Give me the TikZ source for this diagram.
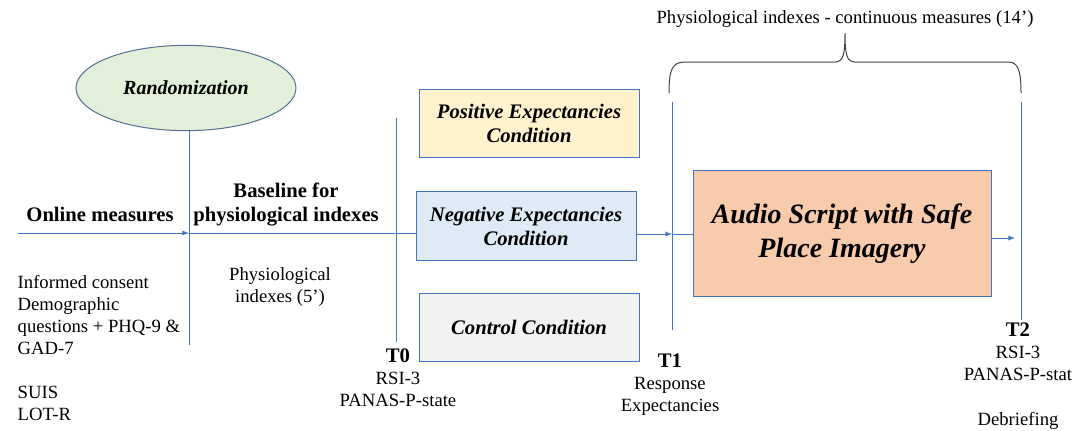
\documentclass[tikz,border=0pt]{standalone}
\usepackage{fontspec}
\setmainfont{Liberation Serif}
\usetikzlibrary{shapes.geometric}

\definecolor{flowblue}{RGB}{68,114,196}
\definecolor{posfill}{RGB}{255,242,204}
\definecolor{negfill}{RGB}{222,235,247}
\definecolor{ctrlfill}{RGB}{242,242,242}
\definecolor{audiofill}{RGB}{248,203,173}
\definecolor{randfill}{RGB}{226,239,217}
\definecolor{randline}{RGB}{84,110,150}
\newcommand{\txt}{\fontsize{14pt}{16.6pt}\selectfont}
\newcommand{\bigtxt}{\fontsize{15.5pt}{18pt}\selectfont\bfseries}

\begin{document}
\begin{tikzpicture}[x=0.75pt,y=-0.75pt,
  flow/.style={flowblue,line width=0.75pt},
  cond/.style={draw=flowblue,line width=0.75pt,minimum width=165pt,minimum height=51.5pt,
    align=center,font=\bigtxt\itshape},
  plain/.style={align=center,font=\txt}]

\useasboundingbox (0,0) rectangle (1077,430);

% randomization
\node[ellipse,draw=randline,fill=randfill,line width=0.75pt,minimum width=165pt,minimum height=64pt,
  font=\fontsize{15pt}{18pt}\selectfont\bfseries\itshape] (rand) at (186,88) {Randomization};

% condition boxes
\node[cond,fill=posfill] (pos) at (529,123.5) {Positive Expectancies\\Condition};
\node[cond,fill=negfill] (neg) at (526,226) {Negative Expectancies\\Condition};
\node[cond,fill=ctrlfill] (ctrl) at (529,327.5) {Control Condition};

\node[draw=flowblue,fill=audiofill,line width=0.75pt,minimum width=223.5pt,minimum height=95pt,
  align=center,font=\fontsize{21pt}{25pt}\selectfont\bfseries\itshape] (audio) at (842,233.5)
  {Audio Script with Safe\\Place Imagery};

% time points
\coordinate (rbot) at (189,345);
\coordinate (tztop) at (396,118);
\coordinate (tzbot) at (396,342);
\coordinate (totop) at (672,102);
\coordinate (tobot) at (672,330);
\coordinate (tttop) at (1021,102);
\coordinate (ttbot) at (1021,320);
\coordinate (start) at (18,233);
\coordinate (rcross) at (189,233);
\coordinate (tocross) at (672,234);
\coordinate (fin) at (1015,238);

\draw[flow] (rand.south -| rbot) -- (rbot);
\draw[flow] (tztop) -- (tzbot);
\draw[flow] (totop) -- (tobot);
\draw[flow] (tttop) -- (ttbot);

\draw[flow,-latex] (start) -- (rcross);
\draw[flow] (rcross) -- (rcross -| neg.west);
\draw[flow,-latex] (tocross -| neg.east) -- (tocross);
\draw[flow] (tocross) -- (tocross -| audio.west);
\draw[flow,-latex] (fin -| audio.east) -- (fin);

% texts
\node[font=\bigtxt] (online) at (100,214) {Online measures};
\node[align=center,font=\bigtxt] (baseline) at (286,204) {Baseline for\\physiological indexes};
\node[anchor=west,align=left,font=\txt] (consent) at (13,348)
  {Informed consent\\Demographic\\questions + PHQ-9 \&\\GAD-7\\[16.6pt]SUIS\\LOT-R};
\node[plain] (physio) at (280,287) {Physiological\\indexes (5’)};
\node[plain] (tzero) at (398,378) {{\bigtxt T0}\\RSI-3\\PANAS-P-state};
\node[plain] (tone) at (670,385) {{\bigtxt T1}\\Response\\Expectancies};
\node[plain] (ttwo) at (1018,376) {{\bigtxt T2}\\RSI-3\\PANAS-P-stat\\[16.6pt]Debriefing};

% brace
\draw[black!75,line width=0.75pt] (669,93) .. controls (669,70) and (672,62) .. (685,62) -- (835,62)
  .. controls (843,62) and (845,55) .. (845,33)
  .. controls (845,55) and (847,62) .. (855,62) -- (1008,62)
  .. controls (1018,62) and (1021,70) .. (1021,93);
\node[plain] (contlab) at (845,19) {Physiological indexes - continuous measures (14’)};

\end{tikzpicture}
\end{document}
